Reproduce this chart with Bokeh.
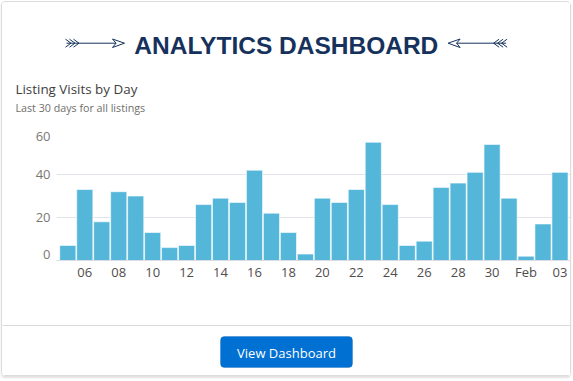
from bokeh.plotting import figure
from bokeh.layouts import column
from bokeh.models import Range1d, FixedTicker, BoxAnnotation
from bokeh.core.properties import value
from bokeh.embed import file_html
from bokeh.resources import INLINE

# ---------------- data ----------------
days = ["Jan 05", "Jan 06", "Jan 07", "Jan 08", "Jan 09", "Jan 10", "Jan 11", "Jan 12",
        "Jan 13", "Jan 14", "Jan 15", "Jan 16", "Jan 17", "Jan 18", "Jan 19", "Jan 20",
        "Jan 21", "Jan 22", "Jan 23", "Jan 24", "Jan 25", "Jan 26", "Jan 27", "Jan 28",
        "Jan 29", "Jan 30", "Jan 31", "Feb 01", "Feb 02", "Feb 03"]
visits = [7, 33, 18, 32, 30, 13, 6, 7, 26, 29, 27, 42, 22, 13, 3,
          29, 27, 33, 55, 26, 7, 9, 34, 36, 41, 54, 29, 2, 17, 41]
x_tick_labels = ["06", "08", "10", "12", "14", "16", "18", "20", "22", "24",
                 "26", "28", "30", "Feb", "03"]
y_ticks = [0, 20, 40, 60]

title_text = "ANALYTICS DASHBOARD"
chart_title = "Listing Visits by Day"
chart_subtitle = "Last 30 days for all listings"
button_text = "View Dashboard"

# ---------------- layout (page pixel coordinates) ----------------
X0, IW = 2, 568                      # inner card area: x 2..570
HEAD_TOP, CHART_TOP, FOOT_TOP, BOTTOM = 2, 122, 315, 375
NAVY = "#16325c"
BAR = "#54b6d9"
idx = list(range(len(days)))
x_tick_pos = idx[1::2]


def deco_fig(y0, y1):
    f = figure(width=IW, height=y1 - y0, output_backend="svg", toolbar_location=None,
               x_range=Range1d(X0, X0 + IW), y_range=Range1d(y1, y0),
               x_axis_type=None, y_axis_type=None, min_border=0)
    f.frame_align = False
    f.grid.visible = False
    f.outline_line_color = None
    f.background_fill_color = "white"
    f.border_fill_color = "white"
    return f


def put_text(fig, x, baseline_y, text, size, color, font="Open Sans", style="normal",
             align="left"):
    # compensate the glyph's baseline placement (about 0.3 em low)
    fig.text(x=[x], y=[baseline_y - 0.3 * size], text=[text], text_font=value(font),
             text_font_style=style, text_font_size=f"{size}px", text_color=color,
             text_align=align, text_baseline="alphabetic")


# ---------------- header ----------------
head = deco_fig(HEAD_TOP, CHART_TOP)
put_text(head, 285.8, 52.3, title_text, 24.5, NAVY, font="Liberation Sans",
         style="bold", align="center")
put_text(head, 15, 92.7, chart_title, 13.4, "#3e3e3c")
put_text(head, 15, 110.7, chart_subtitle, 10.7, "#706e6b")

arrow_xs, arrow_ys = [], []
def add_arrow(mirror):
    f = (lambda x: 571.6 - x) if mirror else (lambda x: x)
    yc = 42.7
    arrow_xs.append([f(66), f(115.5)]); arrow_ys.append([yc, yc])
    arrow_xs.append([f(115.5), f(112), f(124), f(112), f(115.5)])
    arrow_ys.append([yc, 38.5, yc, 47, yc])
    for k in range(3):
        x0 = 65 + 4 * k
        arrow_xs.append([f(x0), f(x0 + 5.5), f(x0)])
        arrow_ys.append([38.7, yc, 46.7])

add_arrow(False)
add_arrow(True)
head.multi_line(xs=arrow_xs, ys=arrow_ys, line_color=NAVY, line_width=1)

# ---------------- chart ----------------
p = figure(width=IW, height=FOOT_TOP - CHART_TOP, output_backend="svg",
           toolbar_location=None,
           x_range=Range1d(-0.666, 29.62), y_range=Range1d(0, 60),
           min_border_left=54, min_border_right=0, min_border_top=9,
           min_border_bottom=55)
p.frame_align = False
p.outline_line_color = None
p.background_fill_color = "white"
p.border_fill_color = "white"

p.vbar(x=idx, top=visits, width=0.95, fill_color=BAR, line_color="white",
       line_alpha=0.6, line_width=1)

p.xgrid.visible = False
p.ygrid.ticker = FixedTicker(ticks=y_ticks)
p.ygrid.grid_line_color = "#e1e5ea"
p.ygrid.grid_line_width = 1

xa = p.xaxis[0]
xa.ticker = FixedTicker(ticks=x_tick_pos)
xa.major_label_overrides = {k: v for k, v in zip(x_tick_pos, x_tick_labels)}
xa.axis_line_color = "#d8dde6"
xa.major_tick_line_color = None
xa.minor_tick_line_color = None
xa.major_tick_out = 0
xa.major_label_standoff = 2
xa.major_label_text_font = "Open Sans"
xa.major_label_text_font_size = "13px"
xa.major_label_text_color = "#4f4d4b"

ya = p.yaxis[0]
y_label_pos = [t + (2.8 if t == min(y_ticks) else (-2.3 if t == max(y_ticks) else 0))
               for t in y_ticks]
ya.ticker = FixedTicker(ticks=y_label_pos)
ya.major_label_overrides = {pos: str(t) for pos, t in zip(y_label_pos, y_ticks)}
ya.axis_line_color = None
ya.major_tick_line_color = None
ya.minor_tick_line_color = None
ya.major_tick_out = 0
ya.major_label_standoff = 6
ya.major_label_text_font = "Open Sans"
ya.major_label_text_font_size = "13px"
ya.major_label_text_color = "#7a7876"

# ---------------- footer ----------------
foot = deco_fig(FOOT_TOP, BOTTOM)
foot.segment(x0=[X0], x1=[X0 + IW], y0=[325], y1=[325], line_color="#dddbda", line_width=1)
foot.add_layout(BoxAnnotation(left=220, right=352, top=336, bottom=367,
                              fill_color="#0070d2", fill_alpha=1, level="underlay",
                              line_color="#0065bd", line_width=1, border_radius=4))
put_text(foot, 286, 356, button_text, 13, "white", align="center")

card = column(head, p, foot, spacing=0,
              styles={"border": "1px solid #dcdcdc", "border-radius": "4px",
                      "box-shadow": "0 2px 2px rgba(0,0,0,0.12)",
                      "margin-left": "1px", "margin-top": "1px"})

open("out.html", "w").write(file_html(card, INLINE))
